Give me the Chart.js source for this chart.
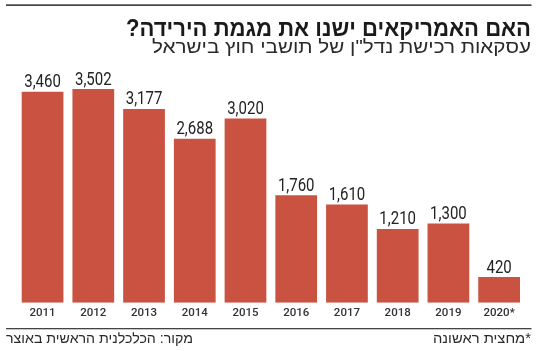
<!DOCTYPE html>
<html lang="he">
<head>
<meta charset="utf-8">
<script src="https://cdn.jsdelivr.net/npm/chart.js@4/dist/chart.umd.min.js"></script>
<style>
  html, body { margin: 0; padding: 0; background: #fff; }
  #wrap { position: relative; width: 550px; height: 351px; }
</style>
</head>
<body>
<div id="wrap"><canvas id="chart" width="550" height="351"></canvas></div>
<script>
const years = ['2011', '2012', '2013', '2014', '2015', '2016', '2017', '2018', '2019', '2020*'];
const deals = [3460, 3502, 3177, 2688, 3020, 1760, 1610, 1210, 1300, 420];

const title = 'האם האמריקאים ישנו את מגמת הירידה?';
const subtitle = 'עסקאות רכישת נדל"ן של תושבי חוץ בישראל';
const source = 'מקור: הכלכלנית הראשית באוצר';
const note = '*מחצית ראשונה';

const barColor = '#c95340';

// draw text squeezed/stretched to a given width, anchored left
function fitText(ctx, text, left, y, width) {
    const w = ctx.measureText(text).width;
    ctx.save();
    ctx.translate(left, y);
    ctx.scale(width / w, 1);
    ctx.textAlign = 'left';
    ctx.fillText(text, 0, 0);
    ctx.restore();
}

// titles, rules and value labels
const decor = {
    id: 'decor',
    afterDraw(chart) {
        const ctx = chart.ctx;
        ctx.save();
        ctx.fillStyle = '#444';
        ctx.fillRect(6, 4.3, 525.5, 1.7);
        ctx.fillRect(6, 328, 525.5, 1.3);

        ctx.direction = 'rtl';
        ctx.textBaseline = 'alphabetic';
        ctx.fillStyle = '#1a1a1a';
        ctx.font = 'bold 23px "Liberation Sans", "DejaVu Sans", sans-serif';
        fitText(ctx, title, 126, 36, 405);
        ctx.fillStyle = '#2a2a2a';
        ctx.font = '18px "Liberation Sans", sans-serif';
        fitText(ctx, subtitle, 152, 53, 379);

        ctx.font = '14px "Liberation Sans", sans-serif';
        fitText(ctx, note, 433, 343, 98);
        fitText(ctx, source, 6, 343, 187);

        ctx.direction = 'ltr';
        ctx.fillStyle = '#222';
        ctx.font = '18.5px Roboto, sans-serif';
        const meta = chart.getDatasetMeta(0);
        meta.data.forEach((bar, i) => {
            const txt = deals[i].toLocaleString('en-US');
            const w = ctx.measureText(txt).width * 0.81;
            fitText(ctx, txt, bar.x - w / 2, bar.y - 4.5, w);
        });
        ctx.restore();
    }
};

new Chart(document.getElementById('chart'), {
    type: 'bar',
    data: {
        labels: years,
        datasets: [{
            data: deals,
            backgroundColor: barColor,
            borderWidth: 0,
            barPercentage: 0.914,
            categoryPercentage: 0.9
        }]
    },
    options: {
        responsive: false,
        animation: false,
        events: [],
        layout: { padding: { top: 58.7, left: 17.2, right: 25.5, bottom: 0 } },
        plugins: { legend: { display: false }, tooltip: { enabled: false }, title: { display: false } },
        scales: {
            x: {
                grid: { display: false, drawTicks: false },
                border: { display: false },
                ticks: {
                    color: '#333',
                    font: { family: 'Roboto, sans-serif', size: 11.5, weight: '500' },
                    padding: 4,
                    maxRotation: 0,
                    autoSkip: false
                },
                afterFit(scale) { scale.height = 48.3; }
            },
            y: {
                display: false,
                min: 0,
                max: 4000
            }
        }
    },
    plugins: [decor]
});
</script>
</body>
</html>
